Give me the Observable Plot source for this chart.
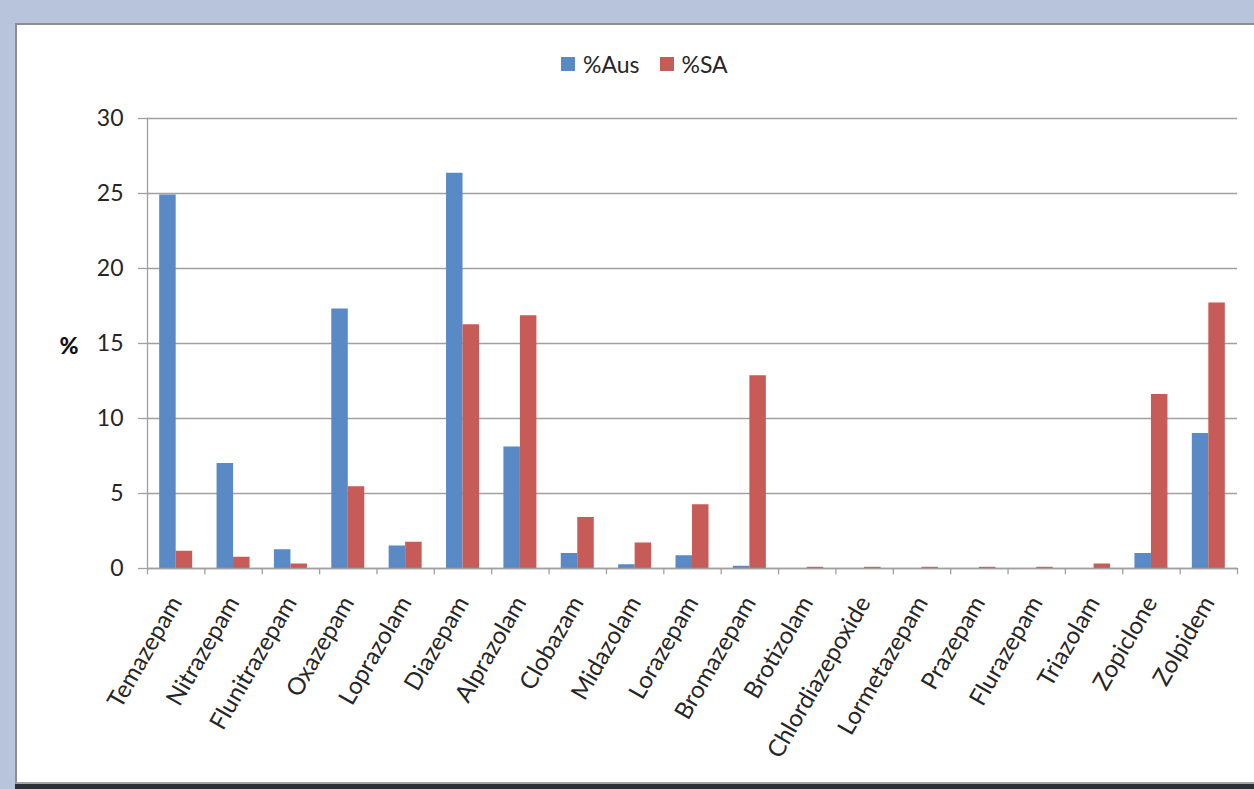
<!DOCTYPE html>
<html><head><meta charset="utf-8">
<script src="https://cdn.jsdelivr.net/npm/d3@7"></script>
<script src="https://cdn.jsdelivr.net/npm/@observablehq/plot@0.6"></script>
<style>
html,body{margin:0;padding:0;}
body{width:1254px;height:789px;background:#b8c4dc;position:relative;overflow:hidden;font-family:Lato,sans-serif;}
#panel{position:absolute;left:15px;top:23px;width:1245px;height:757px;background:#fff;border-left:2px solid #8f8f8f;border-top:2px solid #8f8f8f;border-bottom:2px solid #a3a3a3;}
#shadow{position:absolute;left:15px;top:784px;width:1254px;height:5px;background:#2c2f36;}
#legend{position:absolute;top:50px;left:561px;display:flex;align-items:center;font-size:23px;color:#262626;white-space:nowrap;}
.sw{width:14px;height:14px;display:inline-block;margin-right:8px;}
.item{display:flex;align-items:center;margin-right:20px;}
#chart{position:absolute;left:0;top:90px;}
</style></head>
<body>
<div id="panel"></div>
<div id="shadow"></div>
<div id="legend"></div>
<div id="chart"></div>
<script>
const categories = ["Temazepam","Nitrazepam","Flunitrazepam","Oxazepam","Loprazolam","Diazepam","Alprazolam","Clobazam","Midazolam","Lorazepam","Bromazepam","Brotizolam","Chlordiazepoxide","Lormetazepam","Prazepam","Flurazepam","Triazolam","Zopiclone","Zolpidem"];
const ausValues = [24.9, 7.0, 1.25, 17.3, 1.5, 26.35, 8.1, 1.0, 0.25, 0.85, 0.15, 0, 0, 0, 0, 0, 0, 1.0, 9.0];
const saValues = [1.15, 0.75, 0.3, 5.45, 1.75, 16.25, 16.85, 3.4, 1.7, 4.25, 12.85, 0.08, 0.08, 0.08, 0.08, 0.08, 0.3, 11.6, 17.7];
const seriesNames = ["%Aus", "%SA"];
const seriesColors = ["#5a8ac6", "#c65b58"];
const yTicks = [0, 5, 10, 15, 20, 25, 30];
const yLabel = "%";

const rows = categories.flatMap((c, i) => [
  {drug: c, series: seriesNames[0], value: ausValues[i]},
  {drug: c, series: seriesNames[1], value: saValues[i]}
]);

const W = 1254, H = 690, ml = 147, mr = 17, mt = 28, mb = 212;
const bw = (W - ml - mr) / categories.length;
const barW = 16.5;
const textColor = "#262626";
const gridColor = "#a0a0a0";

const legend = document.getElementById("legend");
seriesNames.forEach((s, i) => {
  const it = document.createElement("span");
  it.className = "item";
  it.innerHTML = `<span class="sw" style="background:${seriesColors[i]}"></span>${s}`;
  legend.appendChild(it);
});

const chart = Plot.plot({
  width: W, height: H,
  marginLeft: ml, marginRight: mr, marginTop: mt, marginBottom: mb,
  style: {fontFamily: "Lato, sans-serif", background: "transparent", overflow: "visible"},
  x: {domain: categories, paddingInner: 0, paddingOuter: 0, round: false, axis: null},
  y: {domain: [0, 30], axis: null},
  color: {domain: seriesNames, range: seriesColors},
  marks: [
    Plot.gridY(yTicks, {stroke: gridColor, strokeOpacity: 1, strokeWidth: 1.3}),
    Plot.frame({anchor: "left", stroke: gridColor, strokeWidth: 1.3}),
    Plot.barY(rows.filter(d => d.series === seriesNames[0]), {x: "drug", y: "value", fill: "series", insetLeft: bw / 2 - barW, insetRight: bw / 2}),
    Plot.barY(rows.filter(d => d.series === seriesNames[1]), {x: "drug", y: "value", fill: "series", insetLeft: bw / 2, insetRight: bw / 2 - barW}),
    Plot.ruleY([0], {stroke: gridColor, strokeWidth: 1.3}),
    Plot.ruleX(categories, {x: d => d, y1: 0, y2: -0.42, dx: -bw / 2, stroke: gridColor, strokeWidth: 1.3}),
    Plot.ruleX(categories.slice(-1), {x: d => d, y1: 0, y2: -0.42, dx: bw / 2, stroke: gridColor, strokeWidth: 1.3}),
    Plot.axisY(yTicks, {tickSize: 9, tickPadding: 15, fontSize: 23, stroke: gridColor, strokeWidth: 1.3, fill: textColor, label: null}),
    Plot.axisX({tickSize: 0, tickPadding: 30, tickRotate: -60, fontSize: 24, fill: textColor, label: null}),
    Plot.text([yLabel], {frameAnchor: "left", dx: -88, dy: 3, fontWeight: 900, fontSize: 23, fill: "#111"})
  ]
});
document.getElementById("chart").appendChild(chart);
</script>
</body></html>
